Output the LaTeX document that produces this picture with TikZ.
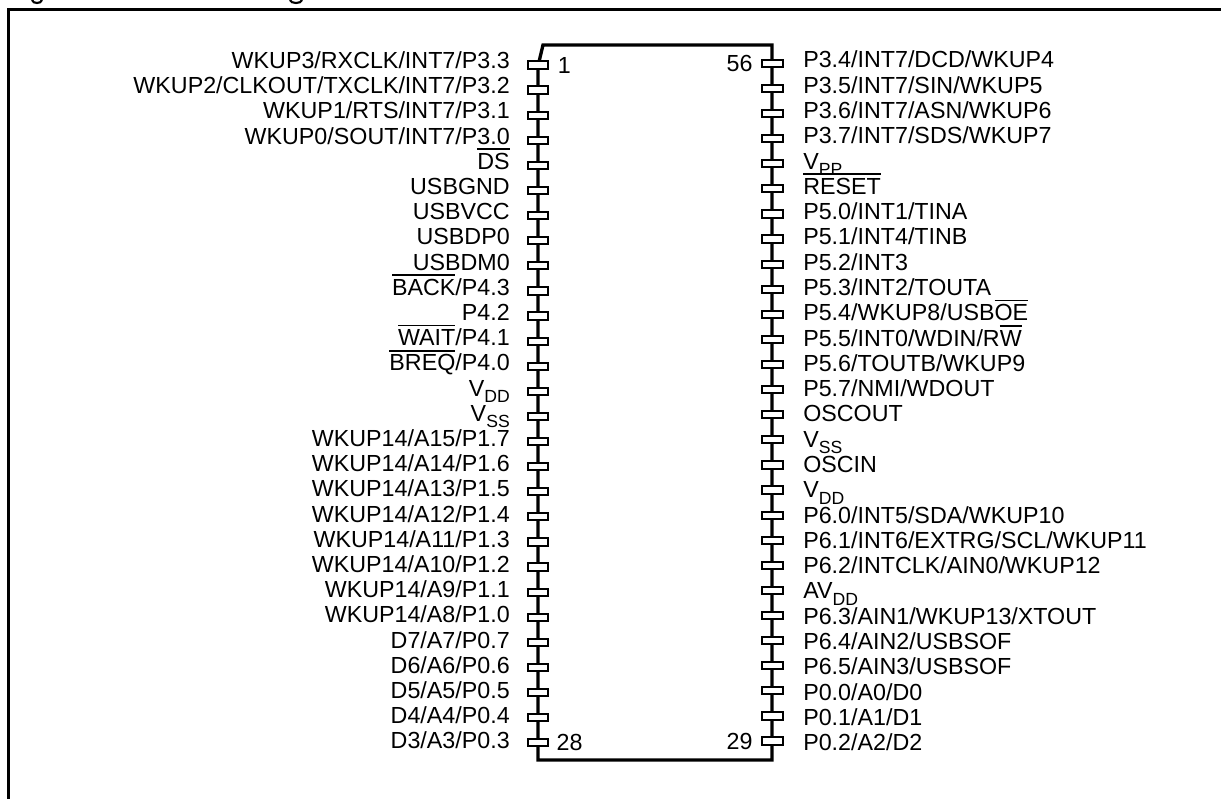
\documentclass[tikz,border=0pt]{standalone}
\usepackage{fontspec}
\usetikzlibrary{positioning}
\setmainfont{Liberation Sans}

% bar over active-low names
\newcommand{\barname}[1]{\setbox0\hbox{#1}\rlap{\raisebox{0.83em}[0pt][0pt]{\rule{\wd0}{0.075em}}}\box0}
% low-set subscript, as in the supply pins
\newcommand{\lowsub}[1]{\raisebox{-0.28em}[0pt][0pt]{\fontsize{13.2}{15}\selectfont #1}}

\begin{document}
\begin{tikzpicture}
  [x=0.75pt,y=-0.75pt,line join=miter,
   % Styles
   frame line/.style={line width=2pt},
   body line/.style={line width=2.5pt},
   pin box/.style={draw,line width=1.5pt,fill=white,minimum width=15.5pt,minimum height=5.4pt,inner sep=0pt,outer sep=0pt},
   pin text/.style={inner sep=0pt,font=\fontsize{17.45}{20}\selectfont},
   pin number/.style={inner sep=0pt,font=\fontsize{17.45}{20}\selectfont}]

  \useasboundingbox (0,0) rectangle (1221,799);

  % Local definitions
  \def\pinpitch{25.1}
  \def\leftpitch{25.2}
  \def\rightpitch{25.28}

  % The page frame and what is left of the title above it
  \draw[frame line] (8.5,799) -- (8.5,9.5) -- (1221,9.5);
  \draw[line width=1.6pt] (32,0) .. controls (33,4) and (41,4) .. (42,0);
  \draw[line width=1.6pt] (290,0) .. controls (291,4) and (301,4) .. (302,0);

  % The package
  \draw[body line] (538,66) -- (543,45) -- (772,45) -- (772,760) -- (538,760) -- cycle;

  % Left row, pin 1 at the top
  \foreach \lefttext [count=\n from 0] in
    {WKUP3/RXCLK/INT7/P3.3, WKUP2/CLKOUT/TXCLK/INT7/P3.2, WKUP1/RTS/INT7/P3.1,
     WKUP0/SOUT/INT7/P3.0, \barname{DS}, USBGND, USBVCC, USBDP0, USBDM0,
     \barname{BACK}/P4.3, P4.2, \barname{WAIT}/P4.1, \barname{BREQ}/P4.0,
     V\lowsub{DD}, V\lowsub{SS},
     WKUP14/A15/P1.7, WKUP14/A14/P1.6, WKUP14/A13/P1.5, WKUP14/A12/P1.4,
     WKUP14/A11/P1.3, WKUP14/A10/P1.2, WKUP14/A9/P1.1, WKUP14/A8/P1.0,
     D7/A7/P0.7, D6/A6/P0.6, D5/A5/P0.5, D4/A4/P0.4, D3/A3/P0.3}
  {
    \node[pin box] (leftpin\n) at (538,65+\n*\pinpitch) {};
    \node[pin text,anchor=base east] (leftlabel\n) at (510,68.5+\n*\leftpitch) {\lefttext};
  }

  % Right row, pin 56 at the top
  \foreach \righttext [count=\n from 0] in
    {P3.4/INT7/DCD/WKUP4, P3.5/INT7/SIN/WKUP5, P3.6/INT7/ASN/WKUP6,
     P3.7/INT7/SDS/WKUP7, V\lowsub{PP}, \barname{RESET},
     P5.0/INT1/TINA, P5.1/INT4/TINB, P5.2/INT3, P5.3/INT2/TOUTA,
     P5.4/WKUP8/USB\barname{OE}, P5.5/INT0/WDIN/R\barname{W},
     P5.6/TOUTB/WKUP9, P5.7/NMI/WDOUT, OSCOUT, V\lowsub{SS}, OSCIN, V\lowsub{DD},
     P6.0/INT5/SDA/WKUP10, P6.1/INT6/EXTRG/SCL/WKUP11, P6.2/INTCLK/AIN0/WKUP12,
     AV\lowsub{DD}, P6.3/AIN1/WKUP13/XTOUT, P6.4/AIN2/USBSOF, P6.5/AIN3/USBSOF,
     P0.0/A0/D0, P0.1/A1/D1, P0.2/A2/D2}
  {
    \node[pin box] (rightpin\n) at (772.5,63.3+\n*\pinpitch) {};
    \node[pin text,anchor=base west] (rightlabel\n) at (803,68+\n*\rightpitch) {\righttext};
  }

  % Pin numbers at the corners
  \node[pin number,right=7pt of leftpin0] (first) {1};
  \node[pin number,right=6pt of leftpin27] (last left) {28};
  \node[pin number,left=7pt of rightpin0] (last) {56};
  \node[pin number,left=7pt of rightpin27] (first right) {29};
\end{tikzpicture}
\end{document}
